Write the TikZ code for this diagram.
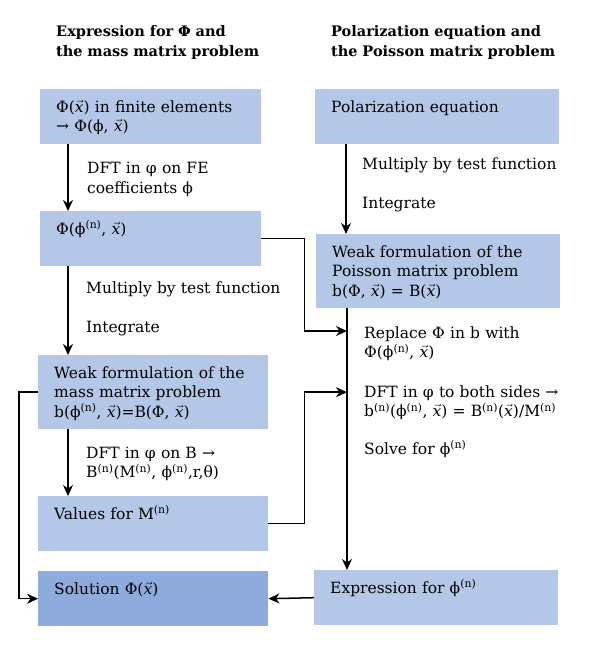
\documentclass[tikz,border=0pt]{standalone}
\usepackage{fontspec}
\setmainfont{DejaVu Serif}
\usepackage{xcolor}
\usepackage{tikz}
\usetikzlibrary{arrows.meta,positioning,calc}
\definecolor{boxblue}{RGB}{180,199,231}
\definecolor{solblue}{RGB}{143,170,220}
\newcommand{\vx}{\ensuremath{\vec{\mathit{x}}}}
\newcommand{\supn}{\textsuperscript{(n)}}
\tikzset{
  stepbox/.style={fill=boxblue,anchor=north west,align=left,inner xsep=16pt,inner ysep=10pt,
    font=\fontsize{15.5}{19.5}\selectfont,text height=13pt,text depth=22pt},
  tallbox/.style={stepbox,text depth=41pt},
  leftbox/.style={text width=189pt},
  widebox/.style={text width=198pt},
  rightbox/.style={text width=212pt},
  steplabel/.style={anchor=base west,align=left,inner sep=0pt,text width=230pt,
    font=\fontsize{15.5}{19.5}\selectfont},
  headlabel/.style={steplabel,font=\fontsize{14.5}{19.5}\selectfont\bfseries},
  flowarrow/.style={-{Stealth[length=11pt,width=10pt,inset=3.5pt]},line width=1.5pt}
}

\begin{document}
\begin{tikzpicture}[x=1pt,y=-1pt]
  \useasboundingbox (0,0) rectangle (598,647);
  \node[headlabel] (lefthead) at (56,37) {Expression for Φ and\\the mass matrix problem};
  \node[headlabel] (righthead) at (331,37) {Polarization equation and\\the Poisson matrix problem};

  \node[stepbox,leftbox] (field) at (40,89) {Φ(\vx) in finite elements\\→ Φ(ϕ, \vx)};
  \node[stepbox,rightbox] (polar) at (315,89) {Polarization equation};
  \node[stepbox,leftbox] (modes) at (40,211) {Φ(ϕ\supn, \vx)};
  \node[tallbox,rightbox] (poisson) at (316,234)
    {Weak formulation of the\\Poisson matrix problem\\b(Φ, \vx) = B(\vx)};
  \node[tallbox,widebox] (mass) at (38,355)
    {Weak formulation of the\\mass matrix problem\\b(ϕ\supn, \vx)=B(Φ, \vx)};
  \node[stepbox,widebox] (values) at (38,496) {Values for M\supn};
  \node[stepbox,widebox,fill=solblue] (solution) at (38,571) {Solution Φ(\vx)};
  \node[stepbox,rightbox] (phin) at (314,570) {Expression for ϕ\supn};

  \node[steplabel] (dftfe) at (87,174) {DFT in φ on FE\\coefficients ϕ};
  \node[steplabel] (multleft) at (86,293) {Multiply by test function};
  \node[steplabel] (intleft) at (86,332) {Integrate};
  \node[steplabel] (dftb) at (86,458) {DFT in φ on B →\\B\supn(M\supn, ϕ\supn,r,θ)};
  \node[steplabel] (multright) at (362,170) {Multiply by test function};
  \node[steplabel] (intright) at (362,208) {Integrate};
  \node[steplabel] (replace) at (364,338) {Replace Φ in b with\\Φ(ϕ\supn, \vx)};
  \node[steplabel] (dftboth) at (364,397)
    {DFT in φ to both sides →\\b\supn(ϕ\supn, \vx) = B\supn(\vx)/M\supn};
  \node[steplabel] (solve) at (364,454) {Solve for ϕ\supn};

  \coordinate (trunk) at ([xshift=31pt]poisson.south west);
  \coordinate (joinphi) at (trunk |- 0,331);
  \coordinate (joinm) at (trunk |- mass.west);

  \draw[flowarrow] ([xshift=28pt]field.south west) -- ([xshift=28pt]modes.north west);
  \draw[flowarrow] ([xshift=28pt]modes.south west) -- ([xshift=28pt]modes.south west |- mass.north);
  \draw[flowarrow] ([xshift=30pt]mass.south west) -- ([xshift=30pt]values.north west);
  \draw[flowarrow] ([xshift=31pt]polar.south west) -- ([xshift=31pt]polar.south west |- poisson.north);
  \draw[flowarrow] (trunk) -- (trunk |- phin.north);
  \draw[flowarrow] (modes.east) -- ++(43,0) |- (joinphi);
  \draw[flowarrow] (values.east) -- ++(36,0) |- (joinm);
  \draw[flowarrow] (mass.west) -- ++(-19,0) |- (solution.west);
  \draw[flowarrow] (phin.west) -- (solution.east);
\end{tikzpicture}
\end{document}
